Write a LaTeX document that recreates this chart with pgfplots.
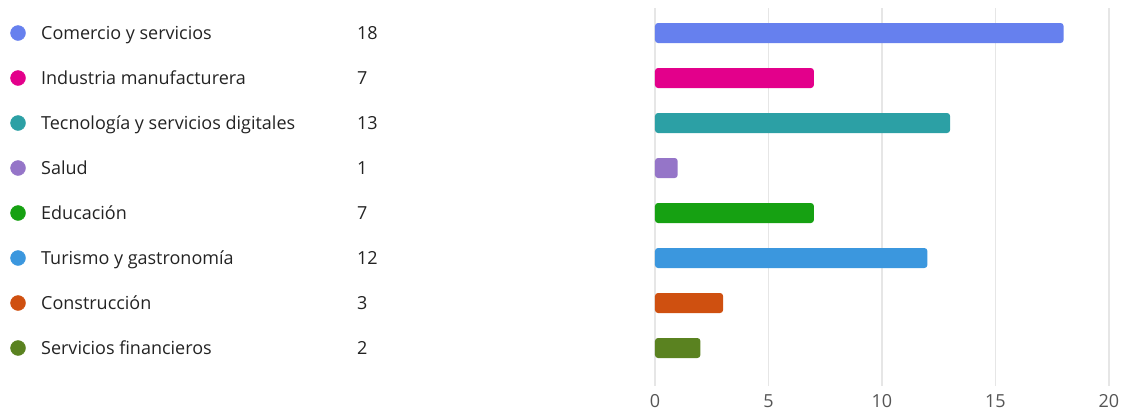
\documentclass[border=0pt]{standalone}
\usepackage{pgfplots}
\pgfplotsset{compat=1.18}
\usepackage{fontspec}
\setmainfont{Open Sans}
\definecolor{cCom}{RGB}{102,128,238}
\definecolor{cInd}{RGB}{227,0,139}
\definecolor{cTec}{RGB}{44,160,165}
\definecolor{cSal}{RGB}{149,117,200}
\definecolor{cEdu}{RGB}{22,161,18}
\definecolor{cTur}{RGB}{59,151,222}
\definecolor{cCon}{RGB}{207,80,16}
\definecolor{cFin}{RGB}{90,130,32}
\definecolor{txt}{RGB}{35,35,35}
\definecolor{tick}{RGB}{85,85,85}
\definecolor{gridc}{RGB}{230,230,230}
\tikzset{lab/.style={anchor=west, font=\fontsize{18bp}{21bp}\selectfont, text=txt, inner sep=0pt, text height=12.9bp, text depth=0bp}}
\newcommand{\tk}[1]{\fontsize{18bp}{21bp}\selectfont #1}
\begin{document}
\begin{tikzpicture}
\useasboundingbox (0,0) rectangle (1126bp,411bp);
\begin{axis}[
  at={(0,25bp)}, anchor=south west,
  scale only axis, width=1126bp, height=378bp,
  xmin=-28.855, xmax=20.749,
  ymin=-0.5556, ymax=7.8444, y dir=reverse,
  xtick={0,5,10,15,20}, ytick=\empty,
  xticklabels={\tk{0},\tk{5},\tk{10},\tk{15},\tk{20}},
  xmajorgrids, grid style={draw=gridc, line width=1.2bp},
  axis line style={draw=none}, major tick length=0pt,
  xticklabel style={text=tick, anchor=center, yshift=-15bp, inner sep=0pt, text height=12.9bp, text depth=0bp},
  clip=false,
  barst/.style={xbar, bar width=20bp, bar shift=0pt, draw=none, rounded corners=3bp},
  dotst/.style={only marks, mark=*, mark size=7.5bp},
]
\addplot[barst, fill=cCom] coordinates {(18,0)};
\addplot[barst, fill=cInd] coordinates {(7,1)};
\addplot[barst, fill=cTec] coordinates {(13,2)};
\addplot[barst, fill=cSal] coordinates {(1,3)};
\addplot[barst, fill=cEdu] coordinates {(7,4)};
\addplot[barst, fill=cTur] coordinates {(12,5)};
\addplot[barst, fill=cCon] coordinates {(3,6)};
\addplot[barst, fill=cFin] coordinates {(2,7)};
\addplot[dotst, color=cCom, mark options={fill=cCom}] coordinates {(-28.06,0)};
\addplot[dotst, color=cInd, mark options={fill=cInd}] coordinates {(-28.06,1)};
\addplot[dotst, color=cTec, mark options={fill=cTec}] coordinates {(-28.06,2)};
\addplot[dotst, color=cSal, mark options={fill=cSal}] coordinates {(-28.06,3)};
\addplot[dotst, color=cEdu, mark options={fill=cEdu}] coordinates {(-28.06,4)};
\addplot[dotst, color=cTur, mark options={fill=cTur}] coordinates {(-28.06,5)};
\addplot[dotst, color=cCon, mark options={fill=cCon}] coordinates {(-28.06,6)};
\addplot[dotst, color=cFin, mark options={fill=cFin}] coordinates {(-28.06,7)};
\node[lab] at (axis cs:-27.05,0) {Comercio y servicios};
\node[lab] at (axis cs:-27.05,1) {Industria manufacturera};
\node[lab] at (axis cs:-27.05,2) {Tecnología y servicios digitales};
\node[lab] at (axis cs:-27.05,3) {Salud};
\node[lab] at (axis cs:-27.05,4) {Educación};
\node[lab] at (axis cs:-27.05,5) {Turismo y gastronomía};
\node[lab] at (axis cs:-27.05,6) {Construcción};
\node[lab] at (axis cs:-27.05,7) {Servicios financieros};
\node[lab] at (axis cs:-13.13,0) {18};
\node[lab] at (axis cs:-13.13,1) {7};
\node[lab] at (axis cs:-13.13,2) {13};
\node[lab] at (axis cs:-13.13,3) {1};
\node[lab] at (axis cs:-13.13,4) {7};
\node[lab] at (axis cs:-13.13,5) {12};
\node[lab] at (axis cs:-13.13,6) {3};
\node[lab] at (axis cs:-13.13,7) {2};
\end{axis}
\end{tikzpicture}
\end{document}
